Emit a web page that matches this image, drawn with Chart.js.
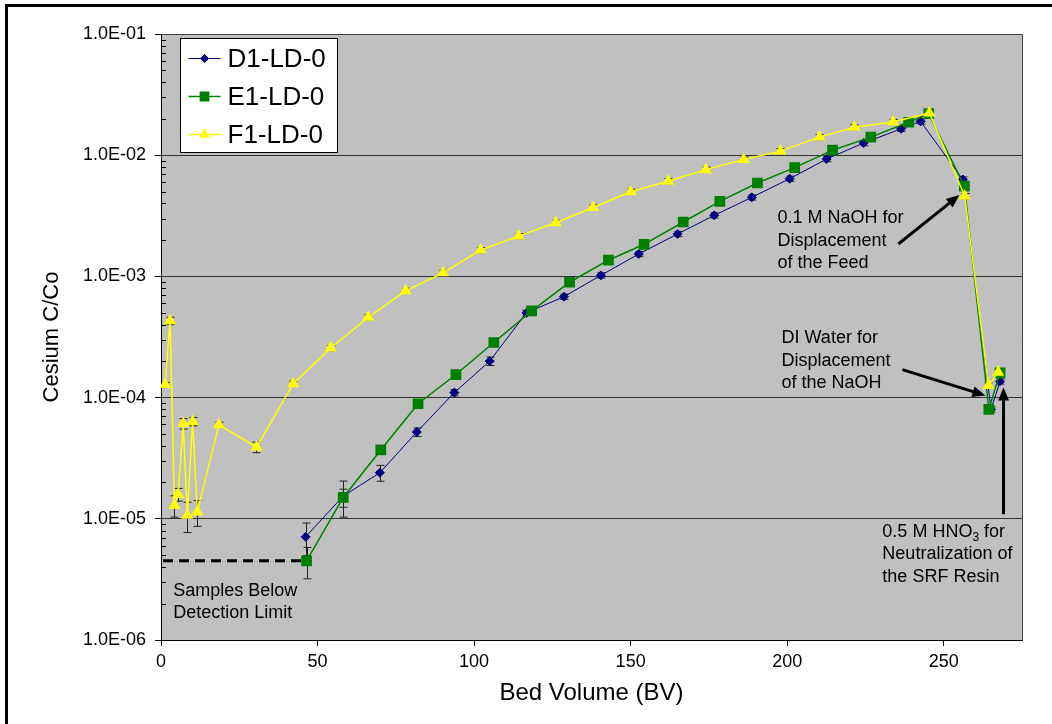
<!DOCTYPE html>
<html>
<head>
<meta charset="utf-8">
<script src="https://cdn.jsdelivr.net/npm/chart.js@4.4.1/dist/chart.umd.min.js"></script>
<style>
  html, body { margin: 0; padding: 0; background: #fff; }
  #wrap { width: 1052px; height: 724px; position: relative; }
</style>
</head>
<body>
<div id="wrap"><canvas id="chartCesio"></canvas></div>
<script>
// Datos (Bed Volume vs C/Co)
const bvD1 = [46.2, 58.2, 69.9, 81.7, 93.7, 105.0, 116.7, 128.7, 140.5, 152.6, 165.0, 176.7, 188.7, 200.8, 212.6, 224.4, 236.4, 242.6, 256.1, 265.1, 268.0];
const ccoD1 = [7.1e-6, 1.54e-5, 2.4e-5, 5.2e-5, 1.1e-4, 2.0e-4, 5.0e-4, 6.8e-4, 1.02e-3, 1.53e-3, 2.24e-3, 3.19e-3, 4.49e-3, 6.4e-3, 9.3e-3, 1.26e-2, 1.65e-2, 1.9e-2, 6.3e-3, 8.0e-5, 1.36e-4];
const errD1 = [0.30, 0.33, 0.15, 0.08, 0.06, 0.08, 0.05, 0.05, 0.05, 0.05, 0.05, 0.05, 0.05, 0.05, 0.05, 0.05, 0.05, 0.05, 0.05, 0.05, 0.05];

const bvE1 = [46.5, 58.2, 70.2, 82.1, 94.2, 106.3, 118.4, 130.5, 142.9, 154.3, 166.8, 178.5, 190.5, 202.4, 214.5, 226.7, 238.8, 245.2, 256.6, 264.4, 268.0];
const ccoE1 = [4.5e-6, 1.5e-5, 3.7e-5, 8.9e-5, 1.55e-4, 2.85e-4, 5.2e-4, 8.95e-4, 1.36e-3, 1.84e-3, 2.81e-3, 4.16e-3, 5.9e-3, 7.9e-3, 1.10e-2, 1.41e-2, 1.87e-2, 2.2e-2, 5.56e-3, 8.0e-5, 1.6e-4];
const errE1 = [0.29, 0.17, 0.05, 0.05, 0.05, 0.05, 0.05, 0.05, 0.05, 0.05, 0.05, 0.05, 0.05, 0.05, 0.05, 0.05, 0.05, 0.05, 0.05, 0.05, 0.05];

const bvF1 = [1.3, 2.9, 4.3, 5.5, 7.1, 8.4, 10.1, 11.6, 18.5, 30.5, 42.2, 54.2, 66.2, 78.1, 90.1, 102.1, 114.2, 126.1, 138.0, 150.0, 162.0, 174.0, 186.1, 197.8, 210.3, 221.5, 233.8, 245.4, 256.7, 264.3, 267.4];
const ccoF1 = [1.28e-4, 4.3e-4, 1.29e-5, 1.59e-5, 6.1e-5, 1.07e-5, 6.35e-5, 1.14e-5, 5.96e-5, 3.9e-5, 1.3e-4, 2.56e-4, 4.6e-4, 7.6e-4, 1.07e-3, 1.65e-3, 2.15e-3, 2.77e-3, 3.7e-3, 4.99e-3, 6.1e-3, 7.6e-3, 9.2e-3, 1.08e-2, 1.41e-2, 1.7e-2, 1.88e-2, 2.23e-2, 4.6e-3, 1.26e-4, 1.62e-4];
const errF1 = [0.04, 0.07, 0.20, 0.12, 0.10, 0.28, 0.08, 0.24, 0.05, 0.10, 0.05, 0.05, 0.05, 0.05, 0.05, 0.05, 0.05, 0.05, 0.05, 0.05, 0.05, 0.05, 0.05, 0.05, 0.05, 0.05, 0.05, 0.05, 0.05, 0.05, 0.05];

const seriesNames = ['D1-LD-0', 'E1-LD-0', 'F1-LD-0'];
const xTicks = [0, 50, 100, 150, 200, 250];
const detectionLimit = 4.5e-6;

const FONT = "'Liberation Sans', Arial, sans-serif";

function puntos(xs, ys) {
  return xs.map((x, i) => ({ x: x, y: ys[i] }));
}

function esDecada(v) {
  const e = Math.log10(v);
  return Math.abs(e - Math.round(e)) < 1e-9;
}

// Flecha negra con punta rellena
function flecha(ctx, x1, y1, x2, y2) {
  const ang = Math.atan2(y2 - y1, x2 - x1);
  const len = 13, half = 5.5;
  ctx.save();
  ctx.strokeStyle = '#000';
  ctx.fillStyle = '#000';
  ctx.lineWidth = 3;
  ctx.beginPath();
  ctx.moveTo(x1, y1);
  ctx.lineTo(x2 - Math.cos(ang) * len * 0.8, y2 - Math.sin(ang) * len * 0.8);
  ctx.stroke();
  ctx.beginPath();
  ctx.moveTo(x2, y2);
  ctx.lineTo(x2 - Math.cos(ang) * len - Math.sin(ang) * half, y2 - Math.sin(ang) * len + Math.cos(ang) * half);
  ctx.lineTo(x2 - Math.cos(ang) * len + Math.sin(ang) * half, y2 - Math.sin(ang) * len - Math.cos(ang) * half);
  ctx.closePath();
  ctx.fill();
  ctx.restore();
}

const decoraciones = {
  id: 'decoraciones',
  beforeDraw(chart) {
    const { ctx, chartArea: a } = chart;
    ctx.save();
    ctx.fillStyle = '#fff';
    ctx.fillRect(0, 0, chart.width, chart.height);
    ctx.fillStyle = '#C0C0C0';
    ctx.fillRect(a.left, a.top, a.right - a.left, a.bottom - a.top);
    ctx.restore();
  },
  beforeDatasetsDraw(chart) {
    // Barras de error
    const { ctx, scales: { x, y } } = chart;
    const errores = [errD1, errE1, errF1];
    ctx.save();
    ctx.strokeStyle = '#222';
    ctx.lineWidth = 1;
    chart.data.datasets.forEach((ds, k) => {
      ds.data.forEach((p, i) => {
        const f = errores[k][i];
        const px = Math.round(x.getPixelForValue(p.x)) + 0.5;
        const yTop = y.getPixelForValue(p.y * (1 + f));
        const yBot = y.getPixelForValue(p.y * (1 - f));
        ctx.beginPath();
        ctx.moveTo(px, yTop); ctx.lineTo(px, yBot);
        ctx.moveTo(px - 4, yTop); ctx.lineTo(px + 4, yTop);
        ctx.moveTo(px - 4, yBot); ctx.lineTo(px + 4, yBot);
        ctx.stroke();
      });
    });
    ctx.restore();
  },
  afterDraw(chart) {
    const { ctx, chartArea: a, scales: { x, y } } = chart;
    ctx.save();

    // Borde del área de trazado
    ctx.strokeStyle = '#444';
    ctx.lineWidth = 1;
    ctx.beginPath();
    ctx.moveTo(a.left, a.top + 0.5);
    ctx.lineTo(a.right + 0.5, a.top + 0.5);
    ctx.lineTo(a.right + 0.5, a.bottom);
    ctx.stroke();

    // Marcas menores del eje logarítmico (hacia dentro)
    ctx.strokeStyle = '#000';
    for (let e = -6; e < -1; e++) {
      for (let m = 2; m <= 9; m++) {
        const py = Math.round(y.getPixelForValue(m * Math.pow(10, e))) + 0.5;
        ctx.beginPath();
        ctx.moveTo(a.left, py);
        ctx.lineTo(a.left + 5, py);
        ctx.stroke();
      }
    }

    // Límite de detección
    const yDl = y.getPixelForValue(detectionLimit);
    ctx.strokeStyle = '#000';
    ctx.lineWidth = 3;
    ctx.setLineDash([10, 6]);
    ctx.beginPath();
    ctx.moveTo(a.left + 2, yDl);
    ctx.lineTo(x.getPixelForValue(bvE1[0]) - 4, yDl);
    ctx.stroke();
    ctx.setLineDash([]);

    // Textos de anotación
    ctx.fillStyle = '#000';
    ctx.font = '18px ' + FONT;
    ctx.textBaseline = 'middle';
    ctx.textAlign = 'left';
    const bloque = (lineas, bx, by) => {
      const px = x.getPixelForValue(bx), py = y.getPixelForValue(by);
      lineas.forEach((t, i) => ctx.fillText(t, px, py + i * 22.5));
    };
    bloque(['Samples Below', 'Detection Limit'], 3.9, 2.55e-6);
    bloque(['0.1 M NaOH for', 'Displacement', 'of the Feed'], 196.9, 3.03e-3);
    bloque(['DI Water for', 'Displacement', 'of the NaOH'], 198.2, 3.1e-4);

    // HNO3 con subíndice
    const hx = x.getPixelForValue(230.4), hy = y.getPixelForValue(7.8e-6);
    let t = '0.5 M HNO';
    ctx.fillText(t, hx, hy);
    let w = ctx.measureText(t).width;
    ctx.font = '12px ' + FONT;
    ctx.fillText('3', hx + w, hy + 6);
    w += ctx.measureText('3').width;
    ctx.font = '18px ' + FONT;
    ctx.fillText(' for', hx + w, hy);
    ctx.fillText('Neutralization of', hx, hy + 22.5);
    ctx.fillText('the SRF Resin', hx, hy + 45);

    // Flechas
    flecha(ctx, x.getPixelForValue(235.5), y.getPixelForValue(1.85e-3), x.getPixelForValue(255.0), y.getPixelForValue(4.69e-3));
    flecha(ctx, x.getPixelForValue(236.8), y.getPixelForValue(1.70e-4), x.getPixelForValue(263.3), y.getPixelForValue(1.04e-4));
    flecha(ctx, x.getPixelForValue(269.1), y.getPixelForValue(1.09e-5), x.getPixelForValue(269.1), y.getPixelForValue(1.21e-4));

    // Leyenda
    const lx = a.left + 19.5, ly = a.top + 4.5, lw = 157, lh = 114;
    ctx.fillStyle = '#fff';
    ctx.fillRect(lx, ly, lw, lh);
    ctx.strokeStyle = '#000';
    ctx.lineWidth = 1;
    ctx.strokeRect(lx, ly, lw, lh);
    chart.data.datasets.forEach((ds, i) => {
      const cy = ly + 20 + i * 38;
      ctx.strokeStyle = ds.borderColor;
      ctx.lineWidth = ds.borderWidth;
      ctx.beginPath();
      ctx.moveTo(lx + 8, cy);
      ctx.lineTo(lx + 40, cy);
      ctx.stroke();
      Chart.helpers.drawPoint(ctx, {
        pointStyle: ds.pointStyle, radius: ds.pointRadius * 0.9, borderWidth: 1
      }, lx + 24, cy);
      ctx.fillStyle = ds.pointBackgroundColor;
      ctx.fill();
      ctx.fillStyle = '#000';
      ctx.font = '26px ' + FONT;
      ctx.fillText(seriesNames[i], lx + 47, cy + 1);
    });

    // Títulos de ejes
    ctx.fillStyle = '#000';
    ctx.font = '24px ' + FONT;
    ctx.textAlign = 'center';
    ctx.fillText('Bed Volume (BV)', (a.left + a.right) / 2, 693);
    ctx.save();
    ctx.translate(52, (a.top + a.bottom) / 2);
    ctx.rotate(-Math.PI / 2);
    ctx.font = '22px ' + FONT;
    ctx.fillText('Cesium C/Co', 0, 0);
    ctx.restore();

    // Marco exterior
    ctx.strokeStyle = '#000';
    ctx.lineWidth = 3;
    ctx.strokeRect(6.5, 5.5, chart.width + 20, chart.height + 20);
    ctx.restore();
  }
};

document.addEventListener('DOMContentLoaded', function () {
  const ctxCesio = document.getElementById('chartCesio');

  new Chart(ctxCesio, {
    type: 'scatter',
    data: {
      datasets: [
        {
          label: seriesNames[0],
          data: puntos(bvD1, ccoD1),
          showLine: true,
          borderColor: '#000080',
          backgroundColor: '#000080',
          pointBackgroundColor: '#000080',
          pointBorderColor: '#000080',
          pointStyle: 'rectRot',
          pointRadius: 4.5,
          borderWidth: 1,
          order: 3
        },
        {
          label: seriesNames[1],
          data: puntos(bvE1, ccoE1),
          showLine: true,
          borderColor: '#008000',
          backgroundColor: '#008000',
          pointBackgroundColor: '#008000',
          pointBorderColor: '#008000',
          pointStyle: 'rect',
          pointRadius: 6.5,
          borderWidth: 1.5,
          order: 2
        },
        {
          label: seriesNames[2],
          data: puntos(bvF1, ccoF1),
          showLine: true,
          borderColor: '#FFFF00',
          backgroundColor: '#FFFF00',
          pointBackgroundColor: '#FFFF00',
          pointBorderColor: '#FFFF00',
          pointStyle: 'triangle',
          pointRadius: 5.5,
          borderWidth: 1.5,
          order: 1
        }
      ]
    },
    options: {
      responsive: true,
      maintainAspectRatio: false,
      animation: false,
      layout: { padding: { top: 34, right: 30, left: 0, bottom: 0 } },
      plugins: {
        legend: { display: false },
        tooltip: { enabled: false }
      },
      elements: { line: { tension: 0 } },
      scales: {
        x: {
          type: 'linear',
          min: 0,
          max: 275,
          afterFit: s => { s.height = 84; },
          afterBuildTicks: s => { s.ticks = xTicks.map(v => ({ value: v })); },
          border: { color: '#000', width: 1 },
          grid: {
            drawOnChartArea: false,
            tickLength: 6,
            tickColor: '#000'
          },
          ticks: {
            padding: 5,
            color: '#000',
            font: { family: FONT, size: 18 },
            maxRotation: 0,
            autoSkip: false
          }
        },
        y: {
          type: 'logarithmic',
          min: 1e-6,
          max: 1e-1,
          afterFit: s => { s.width = 161; },
          border: { color: '#000', width: 1 },
          grid: {
            color: c => (c.tick && esDecada(c.tick.value)) ? '#333' : 'rgba(0,0,0,0)',
            tickColor: c => (c.tick && esDecada(c.tick.value)) ? '#000' : 'rgba(0,0,0,0)',
            tickLength: 6
          },
          ticks: {
            padding: 9,
            color: '#000',
            autoSkip: false,
            font: { family: FONT, size: 18 },
            callback: v => esDecada(v) ? '1.0E-0' + (-Math.round(Math.log10(v))) : ''
          }
        }
      }
    },
    plugins: [decoraciones]
  });
});
</script>
</body>
</html>
